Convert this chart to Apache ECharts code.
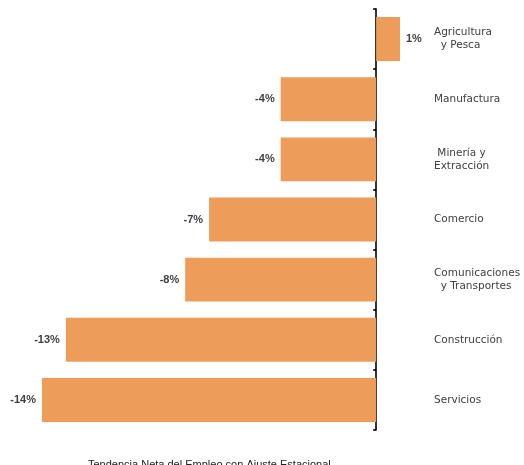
<!DOCTYPE html>
<html><head><meta charset="utf-8">
<script src="https://cdn.jsdelivr.net/npm/echarts@6/dist/echarts.min.js"></script>
<style>html,body{margin:0;padding:0;background:#fff}#c{width:524px;height:465px}</style>
</head><body><div id="c"></div>
<script>
const categories = ["Agricultura\n  y Pesca", "Manufactura", " Minería y\nExtracción", "Comercio", "Comunicaciones\n  y Transportes", "Construcción", "Servicios"];
const values = [1, -4, -4, -7, -8, -13, -14];
const axisTitle = "Tendencia Neta del Empleo con Ajuste Estacional";

const chart = echarts.init(document.getElementById('c'), null, {renderer: 'canvas'});
chart.setOption({
  animation: false,
  grid: {left: 42, right: 124, top: 9, bottom: 35, containLabel: false, outerBoundsMode: 'none'},
  xAxis: {
    type: 'value', min: -14, max: 1, show: false
  },
  yAxis: {
    type: 'category', data: categories, inverse: true, position: 'right',
    axisLine: {onZero: true, lineStyle: {color: '#000', width: 1.6}},
    axisTick: {show: true, inside: true, length: 3, lineStyle: {color: '#000', width: 1.6}},
    axisLabel: {margin: 34, color: '#404040', fontSize: 10.5, fontFamily: 'DejaVu Sans', lineHeight: 13},
    splitLine: {show: false}
  },
  title: {
    text: axisTitle, left: 83, top: 454,
    textStyle: {fontSize: 11, fontWeight: 'normal', color: '#222', fontFamily: 'Liberation Sans, Arial'}
  },
  series: [{
    type: 'bar', barWidth: '73%',
    data: values.map(v => ({value: v, label: {position: v >= 0 ? 'right' : 'left'}})),
    itemStyle: {color: '#ED9C59'},
    label: {show: true, distance: 6, formatter: p => p.value + '%', color: '#404040', fontSize: 11, fontWeight: 'bold', fontFamily: 'Liberation Sans, Arial'}
  }]
});
</script></body></html>
